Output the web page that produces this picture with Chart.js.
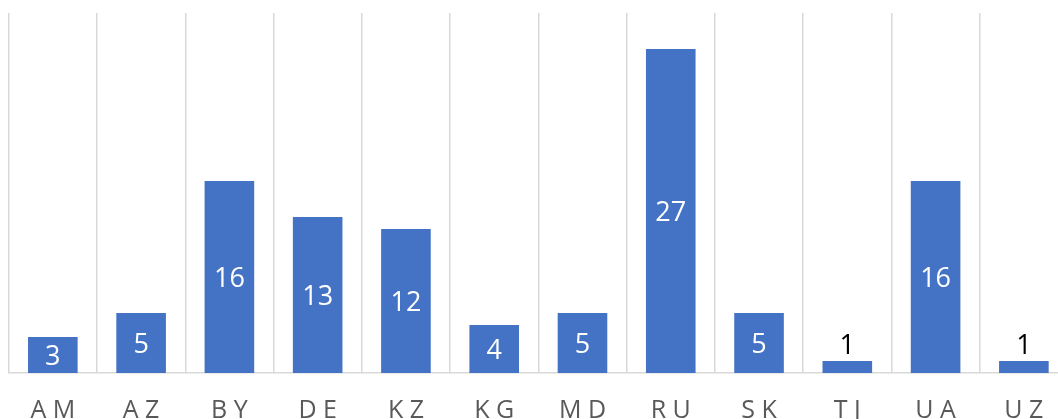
<!DOCTYPE html>
<html>
<head>
<meta charset="utf-8">
<script src="https://cdn.jsdelivr.net/npm/chart.js@4"></script>
<style>
  html, body { margin: 0; padding: 0; background: #fff; overflow: hidden; }
  #wrap { width: 1070px; height: 419px; position: relative; }
</style>
</head>
<body>
<div id="wrap"><canvas id="chart"></canvas></div>
<script>
const countries = ['AM', 'AZ', 'BY', 'DE', 'KZ', 'KG', 'MD', 'RU', 'SK', 'TJ', 'UA', 'UZ'];
const counts = [3, 5, 16, 13, 12, 4, 5, 27, 5, 1, 16, 1];
const yMax = 30;

const barBlue = '#4472c4';
const gridGray = '#d9d9d9';

// draws the value labels (white inside bars, black above tiny bars)
const valueLabels = {
    id: 'valueLabels',
    afterDatasetsDraw(chart) {
        const ctx = chart.ctx;
        const meta = chart.getDatasetMeta(0);
        ctx.save();
        ctx.font = "27px 'Open Sans', sans-serif";
        ctx.textAlign = 'center';
        ctx.textBaseline = 'middle';
        meta.data.forEach((bar, i) => {
            const v = counts[i];
            if (v < 2) {
                ctx.fillStyle = '#000';
                ctx.fillText(v, bar.x, bar.y - 15);
            } else {
                ctx.fillStyle = '#fff';
                ctx.fillText(v, bar.x, (bar.y + bar.base) / 2 + 2);
            }
        });
        ctx.restore();
    }
};

new Chart(document.getElementById('chart'), {
    type: 'bar',
    data: {
        labels: countries,
        datasets: [{
            data: counts,
            backgroundColor: barBlue,
            barPercentage: 0.562,
            categoryPercentage: 1.0
        }]
    },
    options: {
        responsive: true,
        maintainAspectRatio: false,
        animation: false,
        layout: { padding: { left: 8.7, right: 2, top: 13, bottom: 0 } },
        plugins: {
            legend: { display: false },
            tooltip: { enabled: false }
        },
        scales: {
            x: {
                grid: { color: gridGray, lineWidth: 1.5, drawTicks: false, offset: true },
                border: { color: gridGray, width: 1.5 },
                ticks: {
                    color: '#595959',
                    font: { family: "'Open Sans', sans-serif", size: 25 },
                    padding: 23,
                    maxRotation: 0,
                    callback: function (val, idx) {
                        return countries[idx].split('').join(' ');
                    }
                },
                afterFit(axis) { axis.height = 46; }
            },
            y: {
                display: false,
                min: 0,
                max: yMax
            }
        }
    },
    plugins: [valueLabels]
});
</script>
</body>
</html>
